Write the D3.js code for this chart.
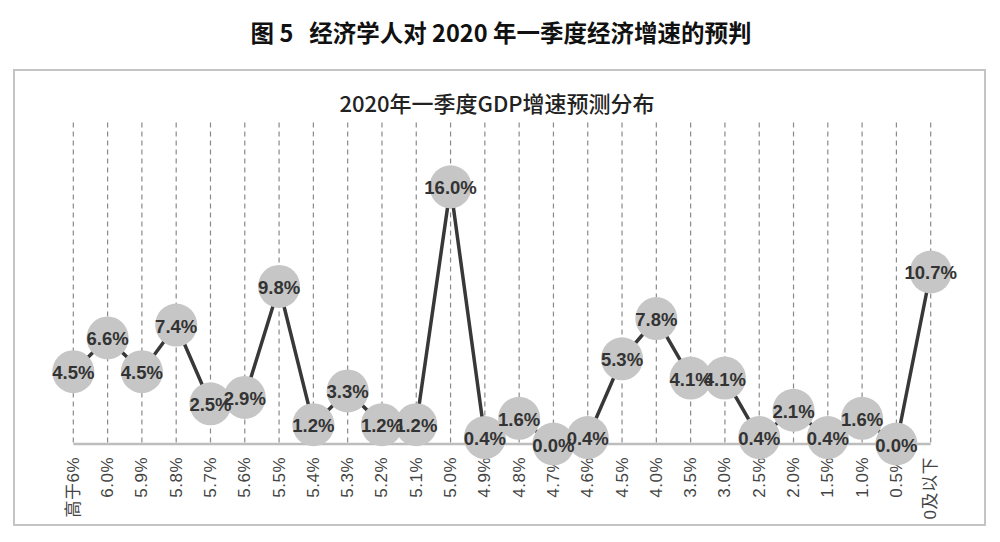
<!DOCTYPE html>
<html><head><meta charset="utf-8">
<script src="https://cdn.jsdelivr.net/npm/d3@7"></script>
<style>html,body{margin:0;padding:0;background:#fff;}svg{display:block;}</style>
</head><body>
<svg id="c" width="1000" height="542"></svg>
<script>
const categories = ["高于6%","6.0%","5.9%","5.8%","5.7%","5.6%","5.5%","5.4%","5.3%","5.2%","5.1%","5.0%","4.9%","4.8%","4.7%","4.6%","4.5%","4.0%","3.5%","3.0%","2.5%","2.0%","1.5%","1.0%","0.5%","0及以下"];
const values = [4.5,6.6,4.5,7.4,2.5,2.9,9.8,1.2,3.3,1.2,1.2,16.0,0.4,1.6,0.0,0.4,5.3,7.8,4.1,4.1,0.4,2.1,0.4,1.6,0.0,10.7];
const valueLabels = ["4.5%","6.6%","4.5%","7.4%","2.5%","2.9%","9.8%","1.2%","3.3%","1.2%","1.2%","16.0%","0.4%","1.6%","0.0%","0.4%","5.3%","7.8%","4.1%","4.1%","0.4%","2.1%","0.4%","1.6%","0.0%","10.7%"];
const yDomain = [0, 20];
const mainTitle = "图 5\u00a0\u00a0\u00a0经济学人对 2020 年一季度经济增速的预判";
const chartTitle = "2020年一季度GDP增速预测分布";

const svg = d3.select("#c");
const x = d3.scalePoint().domain(categories).range([73.3, 930.7]).padding(0);
const y = d3.scaleLinear().domain(yDomain).range([444, 122.5]);

// main title
svg.append("text").attr("x", 501).attr("y", 42).attr("text-anchor","middle")
  .attr("font-family","'Noto Sans CJK SC', sans-serif").attr("font-weight","bold")
  .attr("font-size",23.5).attr("fill","#111").text(mainTitle);

// frame
svg.append("rect").attr("x",14).attr("y",70).attr("width",971).attr("height",455)
  .attr("fill","none").attr("stroke","#c4c4c4").attr("stroke-width",2);

// chart title
svg.append("text").attr("x", 497).attr("y", 112).attr("text-anchor","middle")
  .attr("font-family","'Noto Sans CJK SC', sans-serif").attr("font-weight",500)
  .attr("font-size",22).attr("fill","#222").text(chartTitle);

// dashed gridlines
svg.append("g").selectAll("line").data(categories).join("line")
  .attr("x1", d=>x(d)).attr("x2", d=>x(d))
  .attr("y1", y(yDomain[1])).attr("y2", y(0))
  .attr("stroke","#8a8a8a").attr("stroke-width",1.2).attr("stroke-dasharray","5,4");

// baseline
svg.append("line").attr("x1", x(categories[0])).attr("x2", x(categories[categories.length-1]))
  .attr("y1", y(0)).attr("y2", y(0)).attr("stroke","#bdbdbd").attr("stroke-width",2.5);

// x labels
svg.append("g").selectAll("text").data(categories).join("text")
  .attr("transform", d=>`translate(${x(d)},457) rotate(-90)`)
  .attr("text-anchor","end").attr("dominant-baseline","central")
  .attr("font-family","'Liberation Sans','Noto Sans CJK SC',sans-serif")
  .attr("font-size",17).attr("letter-spacing",0.5).attr("fill","#444").text(d=>d);

// line
const data = categories.map((c,i)=>({c, v: values[i], l: valueLabels[i]}));
svg.append("path").datum(data)
  .attr("d", d3.line().x(d=>x(d.c)).y(d=>y(d.v)))
  .attr("fill","none").attr("stroke","#383838").attr("stroke-width",3.5);

// bubbles
svg.append("g").selectAll("ellipse").data(data).join("ellipse")
  .attr("cx", d=>x(d.c)).attr("cy", d=>y(d.v)).attr("rx",21).attr("ry",21.5)
  .attr("fill","#c6c6c6");

// value labels
svg.append("g").selectAll("text").data(data).join("text")
  .attr("x", d=>x(d.c)).attr("y", d=>y(d.v)+1)
  .attr("text-anchor","middle").attr("dominant-baseline","central")
  .attr("font-family","'Liberation Sans',sans-serif").attr("font-weight","bold")
  .attr("font-size",18.5).attr("fill","#333").text(d=>d.l);
</script>
</body></html>
